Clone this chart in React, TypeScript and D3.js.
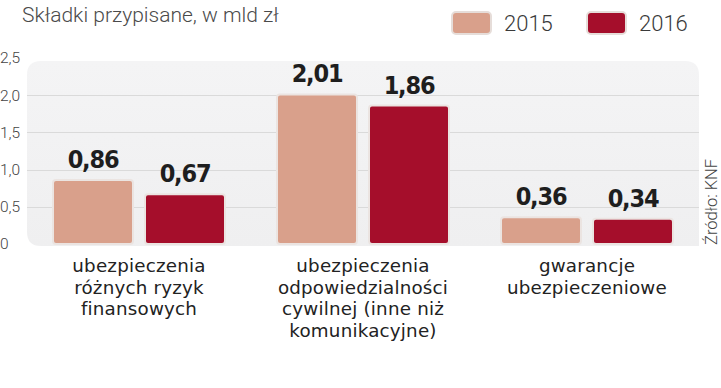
import * as d3 from 'd3';
import React from 'react';

// Składki przypisane (mld zł)
const categories = ['ryzyka', 'oc', 'gwarancje'];
const categoryLines = [
  ['ubezpieczenia', 'różnych ryzyk', 'finansowych'],
  ['ubezpieczenia', 'odpowiedzialności', 'cywilnej (inne niż', 'komunikacyjne)'],
  ['gwarancje', 'ubezpieczeniowe'],
];
const years = ['2015', '2016'];
const values2015 = [0.86, 2.01, 0.36];
const values2016 = [0.67, 1.86, 0.34];
const yTicks = [0, 0.5, 1.0, 1.5, 2.0, 2.5];

const colors: Record<string, string> = { '2015': '#d9a08b', '2016': '#a50e2b' };

const W = 721, H = 388;
const fmt = (v: number) => (v === 0 ? '0' : d3.format('.1f')(v).replace('.', ','));
const fmtVal = (v: number) => d3.format('.2f')(v).replace('.', ',');

const App = () => {
  const panelL = 27, panelR = 699, panelT = 61, panelB = 246;

  const x = d3.scaleBand<string>().domain(categories).range([panelL, panelR]).padding(0);
  const xi = d3.scaleBand<string>().domain(years).range([26, 198]).paddingInner(0.1304).paddingOuter(0);
  const y = d3.scaleLinear().domain([0, 2.5]).range([244, 58]);

  const series = years.map((yr, k) => ({ yr, vals: k === 0 ? values2015 : values2016 }));

  const panelPath = (() => {
    const r = 14;
    const p = d3.path();
    p.moveTo(panelL + r, panelT);
    p.lineTo(panelR - r, panelT);
    p.quadraticCurveTo(panelR, panelT, panelR, panelT + r);
    p.lineTo(panelR, panelB);
    p.lineTo(panelL + r, panelB);
    p.quadraticCurveTo(panelL, panelB, panelL, panelB - r);
    p.lineTo(panelL, panelT + r);
    p.quadraticCurveTo(panelL, panelT, panelL + r, panelT);
    p.closePath();
    return p.toString();
  })();

  return (
    <svg width={W} height={H} style={{ position: 'absolute', left: 0, top: 0, background: '#fff' }}>
      <defs>
        <linearGradient id="panelGrad" x1="0" y1="0" x2="0" y2="1">
          <stop offset="0" stopColor="#f4f4f5" />
          <stop offset="1" stopColor="#efeff0" />
        </linearGradient>
      </defs>

      {/* title */}
      <text x={22} y={22} fontFamily="Roboto" fontWeight={300} fontSize={21} fill="#4a4a4a">
        Składki przypisane, w mld zł
      </text>

      {/* legend */}
      {years.map((yr, i) => {
        const lx = i === 0 ? 452 : 587;
        return (
          <g key={yr}>
            <rect x={lx} y={12} width={39} height={22} rx={4} fill={colors[yr]} stroke="#e6ddd9" strokeWidth={2} />
            <text x={lx + 52} y={31} fontFamily="Roboto" fontWeight={300} fontSize={22} fill="#3a3a3a">
              {yr}
            </text>
          </g>
        );
      })}

      {/* panel */}
      <path d={panelPath} fill="url(#panelGrad)" />
      {yTicks.filter(t => t > 0 && t < 2.5).map(t => (
        <line key={t} x1={panelL} x2={panelR} y1={Math.round(y(t)) + 0.5} y2={Math.round(y(t)) + 0.5} stroke="#dadada" strokeWidth={1} />
      ))}

      {/* y tick labels */}
      {yTicks.map(t => (
        <text key={t} x={0} y={y(t)} dy="0.35em" fontFamily="Roboto" fontWeight={300} fontSize={15.5} fill="#444">
          {fmt(t)}
        </text>
      ))}

      {/* bars */}
      {categories.map((c, ci) => (
        <g key={c} transform={`translate(${x(c)},0)`}>
          {series.map(s => {
            const v = s.vals[ci];
            const bx = xi(s.yr)!;
            const bw = xi.bandwidth();
            return (
              <g key={s.yr}>
                <rect x={bx} y={y(v)} width={bw} height={y(0) - y(v)} rx={3} fill={colors[s.yr]} stroke="#ebe4e1" strokeWidth={2} />
                <text
                  x={bx + bw / 2}
                  y={y(v) - 12}
                  textAnchor="middle"
                  fontFamily="'DejaVu Sans Condensed', 'DejaVu Sans'"
                  fontStretch="condensed"
                  fontWeight={700}
                  fontSize={25}
                  letterSpacing={-1.2}
                  fill="#1e1e1e"
                >
                  {fmtVal(v)}
                </text>
              </g>
            );
          })}
        </g>
      ))}

      {/* category labels, one text per line */}
      {categories.map((c, ci) =>
        categoryLines[ci].map((ln, li) => (
          <text
            key={c + li}
            x={x(c)! + x.bandwidth() / 2}
            y={272 + li * 21.7}
            textAnchor="middle"
            fontFamily="'DejaVu Sans'"
            fontSize={18.3}
            letterSpacing={0.2}
            fill="#222"
          >
            {ln}
          </text>
        ))
      )}

      {/* source */}
      <text transform="translate(717,245) rotate(-90)" fontFamily="Roboto" fontWeight={300} fontSize={16.5} fill="#444">
        Źródło: KNF
      </text>
    </svg>
  );
};

export default App;
